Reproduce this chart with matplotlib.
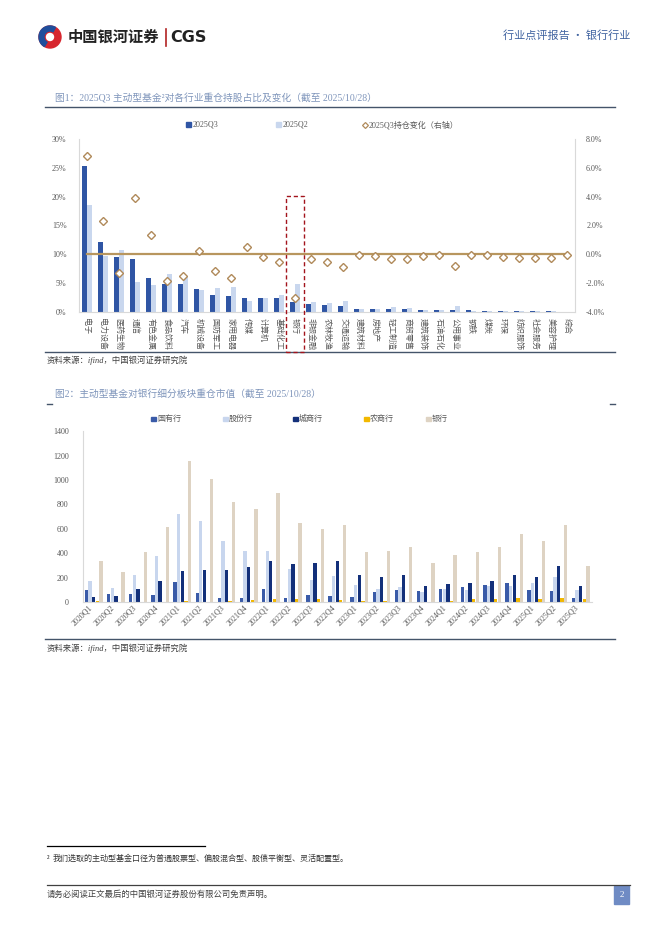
import numpy as np
import matplotlib.pyplot as plt
from matplotlib.patches import Rectangle, Circle, Wedge

plt.rcParams['font.family'] = ['Liberation Serif', 'Noto Sans CJK SC', 'DejaVu Sans']
plt.rcParams['axes.unicode_minus'] = False

# ---- chart 1 data (%)
industries = ['电子', '电力设备', '医药生物', '通信', '有色金属', '食品饮料', '汽车', '机械设备',
              '国防军工', '家用电器', '传媒', '计算机', '基础化工', '银行', '非银金融', '农林牧渔',
              '交通运输', '建筑材料', '房地产', '轻工制造', '商贸零售', '建筑装饰', '石油石化',
              '公用事业', '钢铁', '煤炭', '环保', '纺织服饰', '社会服务', '美容护理', '综合']
q3_share = [25.4, 12.2, 9.5, 9.2, 5.95, 4.85, 4.8, 4.0, 2.95, 2.7, 2.45, 2.4, 2.35, 1.78, 1.45,
            1.15, 1.1, 0.57, 0.55, 0.5, 0.45, 0.35, 0.35, 0.35, 0.3, 0.2, 0.15, 0.12, 0.1, 0.12, 0.02]
q2_share = [18.5, 9.7, 10.7, 5.2, 4.6, 6.6, 6.1, 3.75, 4.1, 4.3, 1.85, 2.5, 2.95, 4.8, 1.7,
            1.5, 1.9, 0.5, 0.6, 0.8, 0.65, 0.4, 0.3, 1.05, 0.25, 0.25, 0.2, 0.2, 0.2, 0.25, 0.05]
q3_change = [6.84, 2.33, -1.27, 3.88, 1.32, -1.83, -1.48, 0.23, -1.18, -1.64, 0.51, -0.19, -0.55,
             -3.03, -0.33, -0.53, -0.9, -0.02, -0.1, -0.35, -0.33, -0.15, -0.05, -0.78, -0.05,
             -0.08, -0.18, -0.22, -0.25, -0.24, -0.05]

# ---- chart 2 data (亿元)
quarters = ['2020Q1', '2020Q2', '2020Q3', '2020Q4', '2021Q1', '2021Q2', '2021Q3', '2021Q4',
            '2022Q1', '2022Q2', '2022Q3', '2022Q4', '2023Q1', '2023Q2', '2023Q3', '2023Q4',
            '2024Q1', '2024Q2', '2024Q3', '2024Q4', '2025Q1', '2025Q2', '2025Q3']
state_banks = [98, 66, 66, 57, 164, 74, 33, 33, 107, 33, 57, 49, 41, 82, 98, 90, 107, 123, 139, 156, 98, 90, 33]
joint_banks = [172, 112, 221, 377, 722, 664, 500, 418, 418, 268, 180, 213, 139, 107, 123, 82, 107, 98, 134, 131, 156, 205, 98]
city_banks = [44, 49, 107, 172, 254, 262, 262, 290, 336, 312, 320, 336, 221, 205, 221, 131, 148, 156, 172, 221, 205, 295, 131]
rural_banks = [5, 3, 3, 3, 5, 3, 5, 16, 25, 25, 27, 16, 8, 11, 3, 3, 11, 22, 25, 33, 27, 33, 25]
all_banks = [336, 246, 410, 615, 1154, 1006, 820, 763, 891, 648, 599, 632, 410, 418, 451, 323, 385, 410, 451, 558, 500, 632, 295]

W, H = 662, 936
fig = plt.figure(figsize=(W / 100, H / 100), dpi=100)

# page layer in pixel coordinates
pg = fig.add_axes([0, 0, 1, 1])
pg.set_xlim(0, W)
pg.set_ylim(H, 0)
pg.axis('off')


def box(x0, y0, x1, y1):
    return [x0 / W, 1 - y1 / H, (x1 - x0) / W, (y1 - y0) / H]


grey = '#595959'
title_c = '#7F95BB'
rule_c = '#44546A'

# header
pg.add_patch(Circle((50, 37), 11, color='#D7262E'))
pg.add_patch(Wedge((50, 37), 11, 120, 300, width=5, color='#1F4E9C'))
pg.add_patch(Circle((50, 37), 3.5, color='white'))
pg.text(68, 37, '中国银河证券', fontsize=11, fontweight='bold', family=['Noto Sans CJK SC'],
        va='center', ha='left', color='#222222')
pg.plot([166, 166], [29, 46], color='#B22222', lw=1.2)
pg.text(170, 37, 'CGS', fontsize=11.5, fontweight='bold', family=['DejaVu Sans'],
        va='center', ha='left', color='#222222')
pg.text(630, 36, '行业点评报告 · 银行行业', fontsize=8, ha='right', va='center', color='#3F62A0',
        family=['Noto Sans CJK SC'])

# chart 1 frame texts
pg.text(55, 98, '图1：2025Q3 主动型基金²对各行业重仓持股占比及变化（截至 2025/10/28）',
        fontsize=7, color=title_c, va='center')
pg.plot([45, 615], [107, 107], color=rule_c, lw=1)
pg.plot([45, 615], [352, 352], color=rule_c, lw=1)
pg.text(47, 360, '资料来源：ifind，中国银河证券研究院', fontsize=6, color='#404040',
        style='italic', va='center')

# chart 1 legend
pg.add_patch(Rectangle((186, 122), 4.5, 4.5, color='#2F55A4'))
pg.text(193, 125, '2025Q3', fontsize=5.8, color=grey, va='center')
pg.add_patch(Rectangle((276, 122), 4.5, 4.5, color='#C9D7EE'))
pg.text(283, 125, '2025Q2', fontsize=5.8, color=grey, va='center')
pg.plot([365], [125], marker='D', ms=3, mfc='white', mec='#B08A5A', mew=0.9)
pg.text(369, 125, '2025Q3持仓变化（右轴）', fontsize=5.8, color=grey, va='center')

ax1 = fig.add_axes(box(79, 139, 575, 312))
x1 = np.arange(len(industries))
ax1.bar(x1 - 0.15, np.array(q3_share) / 100, width=0.29, color='#2F55A4', zorder=2)
ax1.bar(x1 + 0.15, np.array(q2_share) / 100, width=0.29, color='#C9D7EE', zorder=1)
ax1.set_xlim(-0.5, len(industries) - 0.5)
ax1.set_ylim(0, 0.30)
ax1.set_yticks(np.arange(0, 0.31, 0.05))
ax1.set_yticklabels([f'{int(round(v * 100))}%' for v in np.arange(0, 0.31, 0.05)])
ax1.set_xticks(x1)
ax1.set_xticklabels(industries, rotation=-90, fontsize=5.8, color=grey,
                    family=['Noto Sans CJK SC'], va='top', ha='center')
ax1.tick_params(axis='both', length=0, labelsize=5.8, labelcolor=grey)
ax1.tick_params(axis='x', pad=4)
ax1.tick_params(axis='y', pad=9)
for s in ['top', 'right']:
    ax1.spines[s].set_visible(False)
for s in ['left', 'bottom']:
    ax1.spines[s].set_color('#D9D9D9')
    ax1.spines[s].set_linewidth(0.8)

ax1b = ax1.twinx()
ax1b.plot(x1, np.zeros(len(x1)), color='#B8965E', lw=1.6, zorder=3)
ax1b.plot(x1, np.array(q3_change) / 100, ls='none', marker='D', ms=3.6,
          mfc='white', mec='#B08A5A', mew=1.0, zorder=4)
ax1b.set_ylim(-0.04, 0.08)
rt = np.arange(-0.04, 0.081, 0.02)
ax1b.set_yticks(rt)
ax1b.set_yticklabels([f'{v * 100:.1f}%' for v in rt])
ax1b.tick_params(axis='y', length=0, labelsize=5.8, labelcolor=grey, pad=8)
for s in ['top', 'left', 'bottom']:
    ax1b.spines[s].set_visible(False)
ax1b.spines['right'].set_color('#D9D9D9')
ax1b.spines['right'].set_linewidth(0.8)

# highlight box around 银行
bank_i = industries.index('银行')
ax1.add_patch(Rectangle((bank_i - 0.55, -0.069), 1.1, 0.27, fill=False, ec='#A3141C',
                        ls=(0, (3, 2)), lw=1.0, clip_on=False, zorder=5))

# chart 2 frame texts
pg.text(55, 394, '图2：主动型基金对银行细分板块重仓市值（截至 2025/10/28）', fontsize=7,
        color=title_c, va='center')
pg.plot([47, 52], [403.5, 403.5], color=rule_c, lw=1)
pg.plot([610, 615], [403.5, 403.5], color=rule_c, lw=1)
pg.plot([45, 615], [639, 639], color=rule_c, lw=1)
pg.text(47, 648, '资料来源：ifind，中国银河证券研究院', fontsize=6, color='#404040',
        style='italic', va='center')

series2 = [('国有行', state_banks, '#3A5BA8'), ('股份行', joint_banks, '#C8D6EE'),
           ('城商行', city_banks, '#13307A'), ('农商行', rural_banks, '#F2B800'),
           ('银行', all_banks, '#DED3C3')]
leg_x = [151, 223, 293, 364, 426]
for (name, vals, col), lx in zip(series2, leg_x):
    pg.add_patch(Rectangle((lx, 416.5), 4.5, 4.5, color=col))
    pg.text(lx + 6, 419, name, fontsize=5.8, color=grey, va='center')

ax2 = fig.add_axes(box(82.7, 431.3, 591.7, 602))
x2 = np.arange(len(quarters))
for k, (name, vals, col) in enumerate(series2):
    ax2.bar(x2 + (k - 2) * 0.163, vals, width=0.15, color=col)
ax2.set_xlim(-0.5, len(quarters) - 0.5)
ax2.set_ylim(0, 1400)
ax2.set_yticks(np.arange(0, 1401, 200))
ax2.set_xticks(x2)
ax2.set_xticklabels(quarters, rotation=45, ha='right', va='top', fontsize=5.8, color=grey)
ax2.tick_params(axis='both', length=0, labelsize=5.8, labelcolor=grey)
ax2.tick_params(axis='y', pad=10)
ax2.tick_params(axis='x', pad=1)
for s in ['top', 'right']:
    ax2.spines[s].set_visible(False)
for s in ['left', 'bottom']:
    ax2.spines[s].set_color('#D9D9D9')
    ax2.spines[s].set_linewidth(0.8)
pg.text(89, 436, '亿元', fontsize=6.2, fontweight='bold', color='#111111', va='center',
        family=['Noto Sans CJK SC'])

# footnote and footer
pg.plot([47, 205], [846, 846], color='black', lw=0.9)
pg.text(47, 859, '²', fontsize=6, color='#222222', va='center')
pg.text(53, 859, '我们选取的主动型基金口径为普通股票型、偏股混合型、股债平衡型、灵活配置型。',
        fontsize=5.8, color='#333333', va='center')
pg.plot([47, 630], [885, 885], color='#404040', lw=0.9)
pg.text(47, 895, '请务必阅读正文最后的中国银河证券股份有限公司免责声明。', fontsize=6,
        color='#404040', va='center')
pg.add_patch(Rectangle((614, 886), 15, 18, color='#6F8BC4'))
pg.text(621.5, 895, '2', fontsize=6.5, color='white', ha='center', va='center')

fig.savefig('out.png', dpi=100)
